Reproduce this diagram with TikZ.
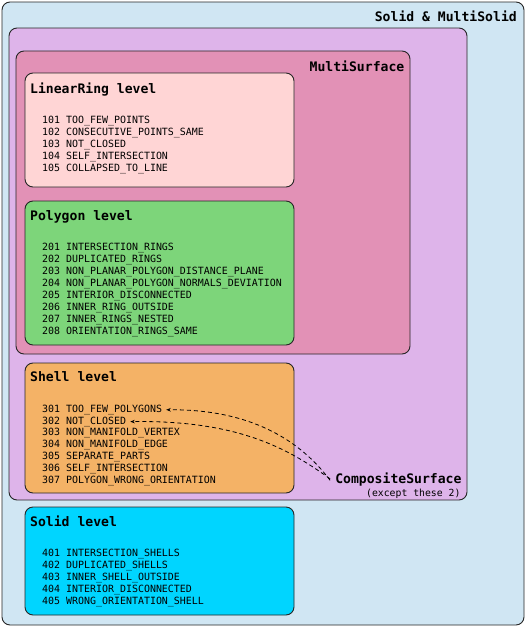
\documentclass[tikz,border=0pt]{standalone}
\usepackage{fontspec}
\newfontfamily\dvmono{DejaVu Sans Mono}
\usetikzlibrary{arrows.meta}
\definecolor{cOuter}{RGB}{208,230,243}
\definecolor{cPurple}{RGB}{222,180,234}
\definecolor{cPink}{RGB}{226,145,182}
\definecolor{cRing}{RGB}{255,213,213}
\definecolor{cPoly}{RGB}{125,213,122}
\definecolor{cShell}{RGB}{244,178,102}
\definecolor{cSolid}{RGB}{0,213,255}
\tikzset{
  box/.style={draw=black!85, line width=0.9pt, rounded corners=8pt},
  ttl/.style={inner sep=0pt, font=\dvmono\bfseries\fontsize{13.1}{15}\selectfont},
  item/.style={inner sep=0pt, anchor=base west, text height=7.5pt, text depth=2.5pt, font=\dvmono\fontsize{9.95}{12}\selectfont},
  note/.style={inner sep=0pt, font=\dvmono\fontsize{9.8}{12}\selectfont},
  dasharrow/.style={line width=0.8pt, dash pattern=on 4pt off 3pt, -{Stealth[length=4.5pt,width=3.5pt]}}
}
\begin{document}
\begin{tikzpicture}[x=1pt,y=-1pt]
\useasboundingbox (0,0) rectangle (526,629);
% containers
\draw[box, fill=cOuter] (2,2) rectangle (524,625);
\draw[box, fill=cPurple] (9,28) rectangle (467,500);
\draw[box, fill=cPink] (16,51) rectangle (410,354);
\draw[box, fill=cRing] (25,73) rectangle (294,187);
\draw[box, fill=cPoly] (25,201) rectangle (294,345);
\draw[box, fill=cShell] (25,363) rectangle (294,493);
\draw[box, fill=cSolid] (25,507) rectangle (294,615);
% container titles
\node[ttl, anchor=base east] (tSolidMulti) at (517,21) {Solid \& MultiSolid};
\node[ttl, anchor=base east] (tMultiSurf) at (404.5,71) {MultiSurface};
% level titles
\node[ttl, anchor=base west] (tRing) at (30,93) {LinearRing level};
\node[ttl, anchor=base west] (tPoly) at (30,220.7) {Polygon level};
\node[ttl, anchor=base west] (tShell) at (30,381.7) {Shell level};
\node[ttl, anchor=base west] (tSolid) at (30,526.7) {Solid level};
% items
\foreach \t [count=\i] in {101 TOO\_FEW\_POINTS, 102 CONSECUTIVE\_POINTS\_SAME, 103 NOT\_CLOSED, 104 SELF\_INTERSECTION, 105 COLLAPSED\_TO\_LINE}
  \node[item] (lr\i) at (42,{123+12*(\i-1)}) {\t};
\foreach \t [count=\i] in {201 INTERSECTION\_RINGS, 202 DUPLICATED\_RINGS, 203 NON\_PLANAR\_POLYGON\_DISTANCE\_PLANE, 204 NON\_PLANAR\_POLYGON\_NORMALS\_DEVIATION, 205 INTERIOR\_DISCONNECTED, 206 INNER\_RING\_OUTSIDE, 207 INNER\_RINGS\_NESTED, 208 ORIENTATION\_RINGS\_SAME}
  \node[item] (pg\i) at (42,{250.7+11.94*(\i-1)}) {\t};
\foreach \t [count=\i] in {301 TOO\_FEW\_POLYGONS, 302 NOT\_CLOSED, 303 NON\_MANIFOLD\_VERTEX, 304 NON\_MANIFOLD\_EDGE, 305 SEPARATE\_PARTS, 306 SELF\_INTERSECTION, 307 POLYGON\_WRONG\_ORIENTATION}
  \node[item] (sh\i) at (42,{412.3+11.83*(\i-1)}) {\t};
\foreach \t [count=\i] in {401 INTERSECTION\_SHELLS, 402 DUPLICATED\_SHELLS, 403 INNER\_SHELL\_OUTSIDE, 404 INTERIOR\_DISCONNECTED, 405 WRONG\_ORIENTATION\_SHELL}
  \node[item] (so\i) at (42,{556+12*(\i-1)}) {\t};
% composite surface
\node[ttl, anchor=base east] (cs) at (461.7,483.3) {CompositeSurface};
\node[note, anchor=base east] (csnote) at (460.7,496) {(except these 2)};
\coordinate (csA) at ([xshift=-5pt,yshift=-1pt]cs.west);
\coordinate (csB) at ([xshift=-5pt,yshift=0.5pt]cs.west);
\draw[dasharrow] (csA) .. controls (300,440) and (250,409) .. ([xshift=4pt]sh1.east);
\draw[dasharrow] (csB) .. controls (290,450) and (240,420) .. ([xshift=4pt]sh2.east);
\end{tikzpicture}
\end{document}
